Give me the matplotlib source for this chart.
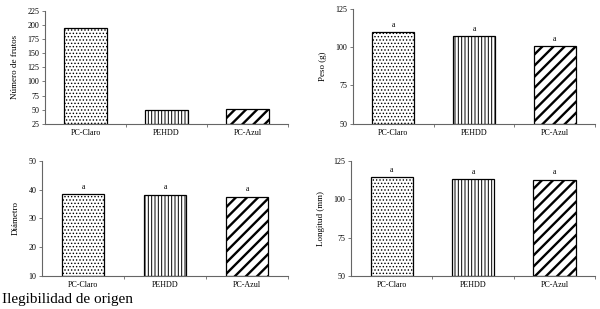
import matplotlib
matplotlib.use('Agg')
import matplotlib.pyplot as plt

plt.rcParams['font.family'] = ['Liberation Serif', 'DejaVu Serif']

categorias = ['PC-Claro', 'PEHDD', 'PC-Azul']
frutos = [194, 49.5, 52]
peso = [109.5, 107.2, 100.6]
diametro = [38.4, 38.2, 37.6]
longitud = [114.5, 113.1, 112.7]
letras = ['a', 'a', 'a']

tramas = ['.....', '|||||', '///']
grosor_trama = [0.6, 0.7, 1.7]

paneles = [
    # (valores, ylabel, ylim, ticks, letras?, rect)
    (frutos, 'Número de frutos', (25, 225), range(25, 226, 25), False,
     [0.075, 0.599, 0.405, 0.366]),
    (peso, 'Peso (g)', (50, 125), range(50, 126, 25), True,
     [0.588, 0.599, 0.404, 0.373]),
    (diametro, 'Diámetro', (10, 50), range(10, 51, 10), True,
     [0.070, 0.107, 0.410, 0.372]),
    (longitud, 'Longitud (mm)', (50, 125), range(50, 126, 25), True,
     [0.585, 0.107, 0.407, 0.372]),
]

fig = plt.figure(figsize=(6, 3.09), dpi=100)

for valores, etiqueta, lim, ticks, con_letras, rect in paneles:
    ax = fig.add_axes(rect)
    x = list(range(len(categorias)))
    for i, v in enumerate(valores):
        with plt.rc_context({'hatch.linewidth': grosor_trama[i]}):
            b = ax.bar(x[i], v - lim[0], bottom=lim[0], width=0.52,
                       color='white', edgecolor='black', linewidth=0.9,
                       hatch=tramas[i])
        for p in b.patches:
            if hasattr(p, 'set_hatch_linewidth'):
                p.set_hatch_linewidth(grosor_trama[i])
        if con_letras:
            ax.text(x[i], v + (lim[1] - lim[0]) * 0.03, letras[i],
                    ha='center', va='bottom', fontsize=5.5)
    ax.set_xlim(-0.5, 2.5)
    ax.set_ylim(*lim)
    ax.set_yticks(list(ticks))
    ax.set_xticks(x)
    ax.set_xticklabels(categorias)
    ax.set_xticks([0.5, 1.5, 2.5], minor=True)
    ax.tick_params(axis='x', which='major', length=0, pad=4, labelsize=5.8)
    ax.tick_params(axis='x', which='minor', length=2, width=0.6,
                   color='#666666')
    ax.tick_params(axis='y', length=2, width=0.6, color='#666666',
                   labelsize=5.8, pad=2)
    ax.set_ylabel(etiqueta, fontsize=6.5, labelpad=6)
    for s in ['top', 'right']:
        ax.spines[s].set_visible(False)
    for s in ['left', 'bottom']:
        ax.spines[s].set_color('#666666')
        ax.spines[s].set_linewidth(0.8)

fig.text(0.004, 0.019, 'Ilegibilidad de origen', fontsize=11,
         ha='left', va='baseline')

fig.savefig('out.png', dpi=100)
